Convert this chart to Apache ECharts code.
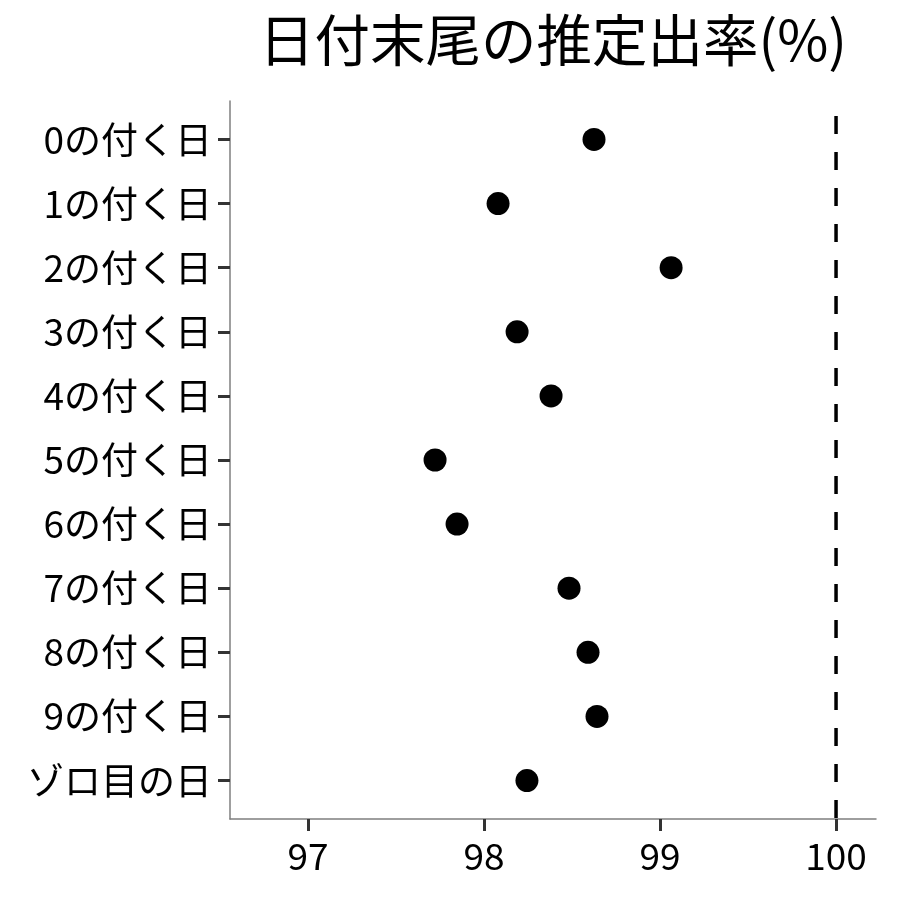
<!DOCTYPE html>
<html>
<head>
<meta charset="utf-8">
<script src="https://cdn.jsdelivr.net/npm/echarts@6/dist/echarts.min.js"></script>
<style>html,body{margin:0;padding:0;background:#fff;}#c{width:900px;height:900px;}</style>
</head>
<body>
<div id="c"></div>
<script>
const titleText = '日付末尾の推定出率(%)';
const categories = ['0の付く日','1の付く日','2の付く日','3の付く日','4の付く日','5の付く日','6の付く日','7の付く日','8の付く日','9の付く日','ゾロ目の日'];
const rates = [98.625, 98.080, 99.063, 98.188, 98.381, 97.722, 97.847, 98.483, 98.591, 98.642, 98.244];
const xTicks = [97, 98, 99, 100];
const refValue = 100;

const FONT = '"Noto Sans CJK JP", "Noto Sans", sans-serif';
const yIdx = categories.map((c, i) => i);
const chart = echarts.init(document.getElementById('c'), null, {renderer: 'canvas'});
chart.setOption({
  animation: false,
  backgroundColor: '#ffffff',
  title: {
    text: titleText,
    left: 548, top: 7, textAlign: 'center',
    textStyle: {fontFamily: FONT, fontSize: 55.5, fontWeight: 'normal', color: '#000'}
  },
  grid: {left: 230, right: 24, top: 101, bottom: 81, containLabel: false},
  xAxis: {
    type: 'value', min: 96.557, max: 100.227,
    axisLine: {show: true, onZero: false, lineStyle: {color: '#7f7f7f', width: 1.5}},
    axisTick: {show: true, customValues: xTicks, length: 12, lineStyle: {color: '#333', width: 3}},
    axisLabel: {customValues: xTicks, margin: 18, fontFamily: FONT, fontSize: 37, color: '#000'},
    splitLine: {show: false}
  },
  yAxis: {
    type: 'value', min: -0.6, max: 10.6, inverse: true,
    axisLine: {show: true, onZero: false, lineStyle: {color: '#7f7f7f', width: 1.5}},
    axisTick: {show: true, customValues: yIdx, length: 12, lineStyle: {color: '#333', width: 3}},
    axisLabel: {customValues: yIdx, margin: 18, fontFamily: FONT, fontSize: 37, color: '#000',
      formatter: v => categories[Math.round(v)]},
    splitLine: {show: false}
  },
  series: [
    {
      type: 'line',
      data: [[refValue, 10.6], [refValue, -0.6]],
      symbol: 'none',
      lineStyle: {color: '#000', width: 3.5, type: [18, 18], dashOffset: -1},
      z: 1
    },
    {
      type: 'scatter',
      data: rates.map((v, i) => [v, i]),
      symbolSize: 23,
      itemStyle: {color: '#000', opacity: 1},
      z: 3
    }
  ]
});
</script>
</body>
</html>
